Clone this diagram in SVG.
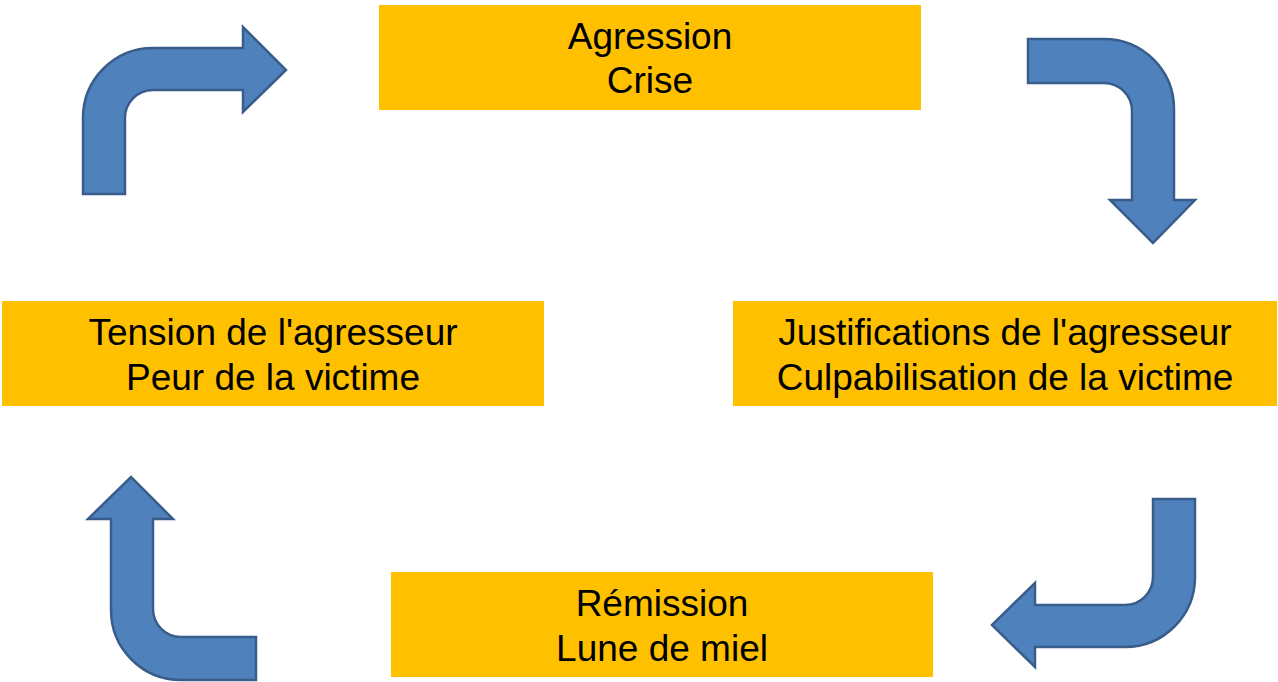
<svg xmlns="http://www.w3.org/2000/svg" width="1278" height="682" viewBox="0 0 1278 682">
<style>
.box{fill:#FFC000;}
.lbl{font-family:"Liberation Sans",Arial,sans-serif;font-size:37px;fill:#000;text-anchor:middle;}
.arr{fill:#4F81BD;stroke:#385D8A;stroke-width:2.5;stroke-linejoin:miter;}
</style>
<rect width="1278" height="682" fill="#fff"/>
<g id="connectors">
<path class="arr" d="M83,194 L83,118 A70,70 0 0 1 153,48 L243,48 L243,27 L286,70 L243,112 L243,90 L153,90 A28,28 0 0 0 125,118 L125,194 Z"/>
<path class="arr" d="M1028,39 L1104,39 A70,70 0 0 1 1174,109 L1174,200 L1195,200 L1153,243 L1110,200 L1132,200 L1132,111 A28,28 0 0 0 1104,83 L1028,83 Z"/>
<path class="arr" d="M1153,499 L1195,499 L1195,577 A70,70 0 0 1 1125,647 L1035,647 L1035,667 L992,625 L1035,583 L1035,605 L1125,605 A28,28 0 0 0 1153,577 Z"/>
<path class="arr" d="M256,680 L181,680 A70,70 0 0 1 111,610 L111,519 L88,519 L131,477 L173,519 L153,519 L153,609 A28,28 0 0 0 181,637 L256,637 Z"/>
</g>
<g id="agression">
<rect class="box" x="379" y="5" width="542" height="105"/>
<text class="lbl" x="650" y="49">Agression</text>
<text class="lbl" x="650" y="93">Crise</text>
</g>
<g id="tension">
<rect class="box" x="2" y="301" width="542" height="105"/>
<text class="lbl" x="273" y="345">Tension de l'agresseur</text>
<text class="lbl" x="273" y="390">Peur de la victime</text>
</g>
<g id="justifications">
<rect class="box" x="733" y="301" width="544" height="105"/>
<text class="lbl" x="1005" y="345">Justifications de l'agresseur</text>
<text class="lbl" x="1005" y="390">Culpabilisation de la victime</text>
</g>
<g id="remission">
<rect class="box" x="391" y="572" width="542" height="105"/>
<text class="lbl" x="662" y="616">Rémission</text>
<text class="lbl" x="662" y="661">Lune de miel</text>
</g>
</svg>
